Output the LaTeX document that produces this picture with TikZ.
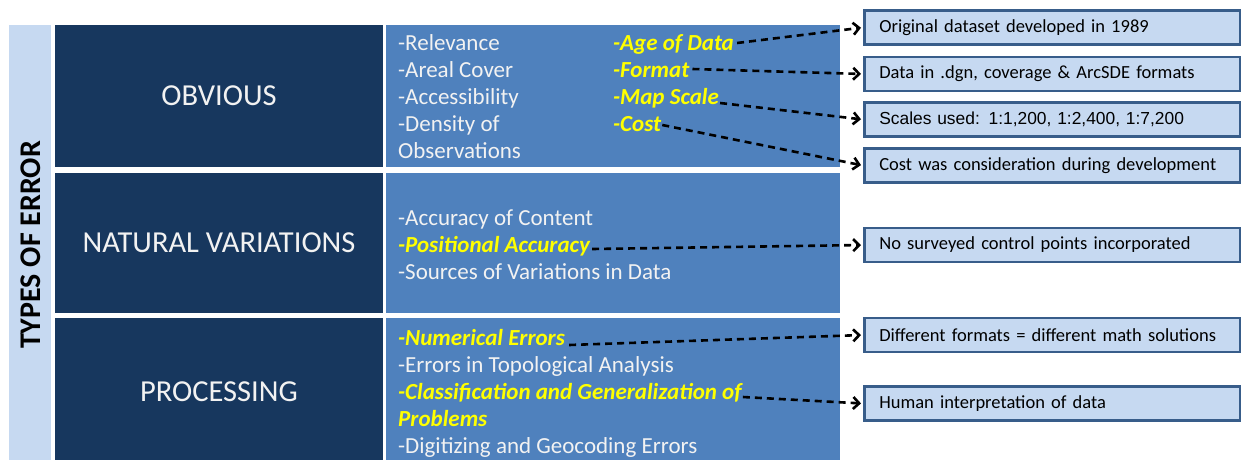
\documentclass[tikz,border=0pt]{standalone}
\usepackage{fontspec}
\setmainfont{Carlito}
\newfontfamily\arialfont{Liberation Sans}
\usetikzlibrary{arrows.meta}
\definecolor{stripc}{RGB}{198,217,241}
\definecolor{darkc}{RGB}{23,55,94}
\definecolor{midc}{RGB}{79,129,189}
\definecolor{boxfill}{RGB}{198,217,241}
\definecolor{boxline}{RGB}{56,93,138}
\definecolor{yel}{RGB}{255,255,0}
\definecolor{wtext}{RGB}{242,242,242}
\begin{document}
\begin{tikzpicture}[x=1pt,y=-1pt,
  darkbox/.style={fill=darkc, text=wtext, inner sep=0pt, font=\fontsize{30.5}{34}\selectfont},
  midbox/.style={fill=midc, inner sep=0pt},
  item/.style={anchor=base west, inner sep=0pt, text=wtext, font=\fontsize{23}{27}\selectfont},
  hitem/.style={item, text=yel, font=\fontsize{23}{27}\selectfont\bfseries\itshape},
  notebox/.style={draw=boxline, line width=2.6pt, fill=boxfill, anchor=west,
    minimum width=376pt, minimum height=34pt, inner xsep=14pt, text width=346pt,
    align=left, font=\fontsize{18.5}{21}\selectfont},
  link/.style={line width=2.6pt, dash pattern=on 7pt off 5pt,
    -{Straight Barb[length=6pt,width=12pt]}, shorten >=2pt}
]
\useasboundingbox (0,0) rectangle (1241,459);
\clip (0,0) rectangle (1241,459);
\fill[white] (0,0) rectangle (1241,459);
% left strip
\fill[stripc] (9,25) rectangle (51,470);
\node[rotate=90, inner sep=0pt, font=\fontsize{30}{36}\selectfont\bfseries] (types) at (31,245) {TYPES OF ERROR};
% dark boxes
\node[darkbox, minimum width=328pt, minimum height=142pt] (obv) at (219,96) {OBVIOUS};
\node[darkbox, minimum width=328pt, minimum height=140pt] (nat) at (219,243) {NATURAL VARIATIONS};
\node[darkbox, minimum width=328pt, minimum height=148pt] (proc) at (219,392) {PROCESSING};
% mid boxes
\node[midbox, minimum width=454pt, minimum height=142pt] (m1) at (613,96) {};
\node[midbox, minimum width=454pt, minimum height=140pt] (m2) at (613,243) {};
\node[midbox, minimum width=454pt, minimum height=148pt] (m3) at (613,392) {};
% row 1 items
\node[item] (i11) at (398,50) {-Relevance};
\node[item] (i12) at (398,77) {-Areal Cover};
\node[item] (i13) at (398,104) {-Accessibility};
\node[item] (i14) at (398,131) {-Density of};
\node[item] (i15) at (398,158) {Observations};
\node[hitem] (age) at (613,50) {-Age of Data};
\node[hitem] (fmt) at (613,77) {-Format};
\node[hitem] (scale) at (613,104) {-Map Scale};
\node[hitem] (cost) at (613,131) {-Cost};
% row 2 items
\node[item] (i21) at (398,225) {-Accuracy of Content};
\node[hitem] (pos) at (398,252) {-Positional Accuracy};
\node[item] (i23) at (398,279) {-Sources of Variations in Data};
% row 3 items
\node[hitem] (num) at (398,345) {-Numerical Errors};
\node[item] (i32) at (398,372) {-Errors in Topological Analysis};
\node[hitem] (cls) at (398,399) {-Classification and Generalization of};
\node[hitem] (prob) at (398,426) {Problems};
\node[item] (i35) at (398,453) {-Digitizing and Geocoding Errors};
% note boxes
\node[notebox] (r1) at (863,27.5) {Original dataset developed in 1989};
\node[notebox] (r2) at (863,74) {Data in .dgn, coverage \& ArcSDE formats};
\node[notebox, font=\arialfont\fontsize{17.4}{20}\selectfont] (r3) at (863,119.5) {Scales used: 1:1,200, 1:2,400, 1:7,200};
\node[notebox] (r4) at (863,165.5) {Cost was consideration during development};
\node[notebox] (r5) at (863,245) {No surveyed control points incorporated};
\node[notebox] (r6) at (863,335) {Different formats = different math solutions};
\node[notebox] (r7) at (863,403.5) {Human interpretation of data};
% links
\draw[link] ([xshift=3pt,yshift=7pt]age.base east) -- (r1.west);
\draw[link] ([xshift=3pt,yshift=8pt]fmt.base east) -- (r2.west);
\draw[link] ([xshift=1pt,yshift=1pt]scale.base east) -- (r3.west);
\draw[link] ([xshift=1pt,yshift=6pt]cost.base east) -- (r4.west);
\draw[link] ([xshift=2pt,yshift=3pt]pos.base east) -- (r5.west);
\draw[link] ([xshift=4pt,yshift=0pt]num.base east) -- (r6.west);
\draw[link] ([xshift=1pt,yshift=2pt]cls.base east) -- (r7.west);
\end{tikzpicture}
\end{document}
